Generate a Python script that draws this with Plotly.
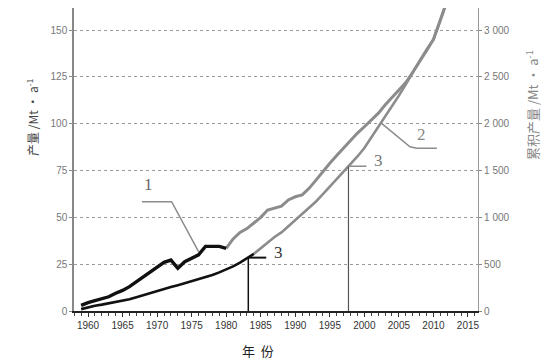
import numpy as np
import plotly.graph_objects as go

# ---- data ----
years = list(range(1959, 2013))
# annual production, Mt/a (left axis)
production = [3.0, 4.5, 5.5, 6.5, 7.6, 9.5, 11.0, 13.0, 15.5, 18.3,
              20.5, 23.0, 26.0, 27.2, 22.8, 26.3, 28.0, 30.0, 34.5, 34.7,
              34.5, 33.5, 38.5, 42.0, 44.0, 47.0, 50.0, 53.9, 54.8, 56.0,
              59.3, 61.0, 62.0, 65.5, 69.9, 74.5, 78.9, 83.0, 86.9, 91.3,
              95.0, 98.4, 102.0, 105.5, 110.0, 114.0, 118.0, 122.0, 127.5, 133.0,
              139.0, 145.0, 156.0, 166.0]
# cumulative production, Mt (right axis)
cumulative = [20, 40, 56, 68, 82, 100, 112, 126, 148, 170,
              192, 220, 240, 256, 276, 296, 316, 336, 358, 384,
              412, 440, 476, 516, 560, 610, 672, 736, 790, 840,
              906, 972, 1036, 1100, 1170, 1248, 1328, 1406, 1490, 1570,
              1650, 1740, 1850, 1968, 2070, 2180, 2300, 2420, 2550, 2670,
              2790, 2900, 3100, 3320]
prod_actual_end = 1980
cum_actual_end = 1984
marker_years = [1983.2, 1997.7]

left_ticks = [0, 25, 50, 75, 100, 125, 150]
right_ticks = [0, 500, 1000, 1500, 2000, 2500, 3000]
right_ticktext = ["0", "500", "1 000", "1 500", "2 000", "2 500", "3 000"]
x_ticks = list(range(1960, 2016, 5))

SCALE = 20.0
YTOP = 161.8
yr = np.array(years)
pv = np.array(production)
cv = np.array(cumulative)

BLACK = "#111111"
GRAY = "#8c8c8c"
fig = go.Figure()

pa = yr <= prod_actual_end
pf = yr >= prod_actual_end
ca = yr <= cum_actual_end
cf = yr >= cum_actual_end

fig.add_trace(go.Scatter(x=yr[cf], y=cv[cf], yaxis="y2", mode="lines",
                         line=dict(color=GRAY, width=2.6), showlegend=False))
fig.add_trace(go.Scatter(x=yr[ca], y=cv[ca], yaxis="y2", mode="lines",
                         line=dict(color=BLACK, width=2.6), showlegend=False))
fig.add_trace(go.Scatter(x=yr[pf], y=pv[pf], mode="lines",
                         line=dict(color=GRAY, width=3), showlegend=False))
fig.add_trace(go.Scatter(x=yr[pa], y=pv[pa], mode="lines",
                         line=dict(color=BLACK, width=3.4), showlegend=False))

shapes = []
annotations = []
label_font = dict(family="Liberation Serif, DejaVu Serif", size=17)

# markers "3"
for i, my in enumerate(marker_years):
    mv = float(np.interp(my, yr, cv)) / SCALE
    col = BLACK if i == 0 else "#555555"
    shapes.append(dict(type="line", xref="x", yref="y", x0=my, x1=my, y0=0, y1=mv,
                       line=dict(color=col, width=1.5 if i == 0 else 1.2)))
    shapes.append(dict(type="line", xref="x", yref="y", x0=my, x1=my + 2.6, y0=mv, y1=mv,
                       line=dict(color=col if i == 0 else GRAY, width=2 if i == 0 else 1.5)))
    annotations.append(dict(x=my + 4.3, y=mv + 3, xref="x", yref="y", text="3",
                            showarrow=False, xanchor="center", yanchor="middle",
                            font=dict(label_font, color="#333" if i == 0 else "#777")))

# label 1
shapes.append(dict(type="path", xref="x", yref="y",
                   path="M 1967.8 58.4 L 1972.1 58.4 L 1976.0 31.7",
                   line=dict(color=GRAY, width=1.5)))
annotations.append(dict(x=1968.7, y=67.5, xref="x", yref="y", text="1",
                        showarrow=False, xanchor="center", yanchor="middle",
                        font=dict(label_font, color="#666")))
# label 2
shapes.append(dict(type="path", xref="x", yref="y",
                   path="M 2002.5 100.2 L 2006.6 87.7 L 2007.6 86.9 L 2010.5 86.9",
                   line=dict(color=GRAY, width=1.5)))
annotations.append(dict(x=2008.3, y=94.5, xref="x", yref="y", text="2",
                        showarrow=False, xanchor="center", yanchor="middle",
                        font=dict(label_font, color="#888")))

# axis titles (page offset of 8px is accounted for)
PW, PH = 404.0, 303.0
annotations.append(dict(xref="paper", yref="paper", x=(24 - 66) / PW, y=1 - 109 / PH,
                        xanchor="center", yanchor="middle",
                        text="产量 /Mt · a<sup>-1</sup>", textangle=-90, showarrow=False,
                        font=dict(family="Noto Sans CJK SC", size=12, color="#444")))
annotations.append(dict(xref="paper", yref="paper", x=(524 - 66) / PW, y=1 - 97 / PH,
                        xanchor="center", yanchor="middle",
                        text="累积产量 /Mt · a<sup>-1</sup>", textangle=-90, showarrow=False,
                        font=dict(family="Noto Sans CJK SC", size=13, color="#888")))
annotations.append(dict(xref="paper", yref="paper", x=(250 - 66) / PW, y=-(342 - 303) / PH,
                        xanchor="center", yanchor="middle",
                        text="年  份", showarrow=False,
                        font=dict(family="Noto Sans CJK SC", size=13, color="#222")))

tick_font = dict(family="Liberation Sans Narrow, Liberation Sans, Arial", size=10)

fig.update_layout(
    width=551, height=363,
    margin=dict(l=66, r=81, t=0, b=60),
    paper_bgcolor="white", plot_bgcolor="white",
    xaxis=dict(range=[1957.97, 2016.45], tickvals=x_ticks, ticks="outside", ticklen=4,
               tickcolor="#333", showline=True, linecolor="#222", linewidth=1.5,
               showgrid=False, zeroline=False, tickfont=dict(tick_font, color="#333", size=10),
               minor=dict(dtick=1, tick0=1960, ticks="outside", ticklen=3, tickcolor="#444")),
    yaxis=dict(range=[0, YTOP], tickvals=left_ticks, ticks="outside", ticklen=3,
               tickcolor="#888", showline=True, linecolor="#888", linewidth=1.5,
               showgrid=True, gridcolor="#9a9a9a", griddash="dot", gridwidth=1,
               zeroline=False, tickfont=dict(tick_font, color="#777")),
    yaxis2=dict(range=[0, YTOP * SCALE], overlaying="y", side="right",
                tickvals=right_ticks, ticktext=right_ticktext, ticks="outside", ticklen=3,
                tickcolor="#888", showline=True, linecolor="#999", linewidth=1.2,
                showgrid=False, zeroline=False, tickfont=dict(tick_font, color="#777")),
    shapes=shapes,
    annotations=annotations,
    showlegend=False,
)

fig.write_html("out.html")
